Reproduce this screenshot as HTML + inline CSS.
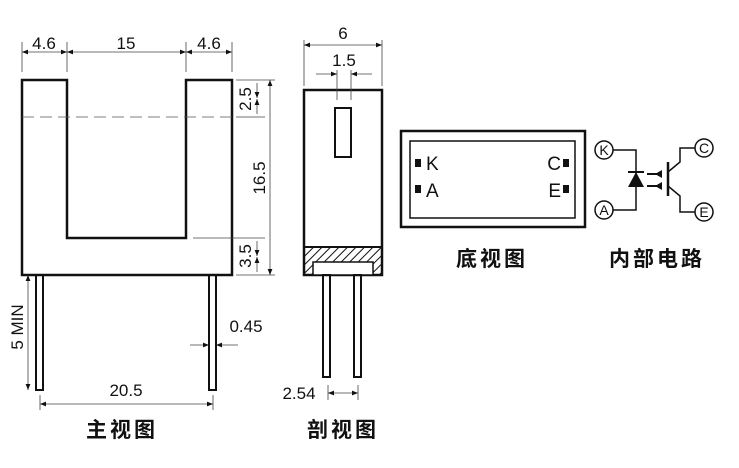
<!DOCTYPE html>
<html><head><meta charset="utf-8"><style>
html,body{margin:0;padding:0;background:#fff;}
svg text{font-family:"Liberation Sans",Arial,sans-serif;fill:#111;}
.cn{font-family:"Noto Sans CJK SC","WenQuanYi Zen Hei",sans-serif;font-weight:bold;}
</style></head><body>
<svg width="739" height="463" viewBox="0 0 739 463" xmlns="http://www.w3.org/2000/svg">
<defs>
<marker id="a" viewBox="0 0 10 10" refX="10" refY="5" markerWidth="10" markerHeight="6" markerUnits="userSpaceOnUse" orient="auto-start-reverse"><path d="M0,1 L10,5 L0,9z" fill="#111"/></marker>
<pattern id="h" width="6" height="6" patternUnits="userSpaceOnUse" patternTransform="rotate(45)"><line x1="0" y1="0" x2="0" y2="6" stroke="#111" stroke-width="2"/></pattern>
</defs>
<rect width="739" height="463" fill="#fff"/>
<g fill="none" stroke="#111">
<path d="M22,80 H67 V238 H186 V80 H232 V275 H22 Z" stroke-width="2.5"/>
<line x1="22" y1="117" x2="232" y2="117" stroke-width="0.8" stroke-dasharray="12,6" stroke="#555"/>
<g stroke-width="0.8" stroke="#444">
<line x1="22" y1="42" x2="22" y2="72"/><line x1="67" y1="42" x2="67" y2="72"/><line x1="186" y1="42" x2="186" y2="72"/><line x1="232" y1="42" x2="232" y2="72"/>
<line x1="22" y1="52" x2="67" y2="52" marker-start="url(#a)" marker-end="url(#a)"/>
<line x1="67" y1="52" x2="186" y2="52" marker-start="url(#a)" marker-end="url(#a)"/>
<line x1="186" y1="52" x2="232" y2="52" marker-start="url(#a)" marker-end="url(#a)"/>
<line x1="236" y1="80" x2="275" y2="80"/><line x1="236" y1="117" x2="265" y2="117"/>
<line x1="193" y1="238" x2="265" y2="238"/><line x1="236" y1="275" x2="275" y2="275"/>
<line x1="257" y1="83" x2="257" y2="98" marker-end="url(#a)"/><line x1="257" y1="114" x2="257" y2="99" marker-end="url(#a)"/>
<line x1="270" y1="80" x2="270" y2="275" marker-start="url(#a)" marker-end="url(#a)"/>
<line x1="257" y1="241" x2="257" y2="256" marker-end="url(#a)"/><line x1="257" y1="272" x2="257" y2="257" marker-end="url(#a)"/>
<line x1="28" y1="275" x2="28" y2="390" marker-start="url(#a)" marker-end="url(#a)"/>
<line x1="40" y1="395" x2="40" y2="410"/><line x1="213" y1="395" x2="213" y2="410"/>
<line x1="40" y1="404" x2="213" y2="404" marker-start="url(#a)" marker-end="url(#a)"/>
<line x1="190" y1="345" x2="209" y2="345" marker-end="url(#a)"/><line x1="238" y1="345" x2="216" y2="345" marker-end="url(#a)"/>
</g>
<rect x="36" y="275" width="7" height="115" stroke-width="2"/>
<rect x="209" y="275" width="7" height="115" stroke-width="2"/>
</g>
<text x="44" y="49" font-size="17" text-anchor="middle">4.6</text>
<text x="126" y="49" font-size="17" text-anchor="middle">15</text>
<text x="209" y="49" font-size="17" text-anchor="middle">4.6</text>
<text transform="translate(251,99) rotate(-90)" font-size="17" text-anchor="middle">2.5</text>
<text transform="translate(265,178) rotate(-90)" font-size="17" text-anchor="middle">16.5</text>
<text transform="translate(251,256) rotate(-90)" font-size="17" text-anchor="middle">3.5</text>
<text transform="translate(23,327) rotate(-90)" font-size="17" text-anchor="middle">5 MIN</text>
<text x="246" y="332" font-size="17" text-anchor="middle">0.45</text>
<text x="126" y="396" font-size="17" text-anchor="middle">20.5</text>
<text class="cn" x="122" y="437" font-size="21" text-anchor="middle" letter-spacing="3">主视图</text>
<g fill="none" stroke="#111">
<rect x="304" y="90" width="78" height="185" stroke-width="2.5"/>
<rect x="335" y="108" width="16" height="49" stroke-width="2"/>
<rect x="305" y="248" width="76" height="26" fill="url(#h)" stroke="none"/>
<line x1="304" y1="247" x2="382" y2="247" stroke-width="2"/>
<rect x="313" y="262" width="60" height="13" fill="#fff" stroke-width="1.5"/>
<rect x="323" y="275" width="7" height="102" stroke-width="2"/>
<rect x="354" y="275" width="7" height="102" stroke-width="2"/>
<g stroke-width="0.8" stroke="#444">
<line x1="304" y1="40" x2="304" y2="86"/><line x1="382" y1="40" x2="382" y2="86"/>
<line x1="304" y1="45" x2="382" y2="45" marker-start="url(#a)" marker-end="url(#a)"/>
<line x1="337" y1="70" x2="337" y2="100"/><line x1="351" y1="70" x2="351" y2="100"/>
<line x1="316" y1="74" x2="337" y2="74" marker-end="url(#a)"/><line x1="372" y1="74" x2="351" y2="74" marker-end="url(#a)"/>
<line x1="328" y1="385" x2="328" y2="400"/><line x1="358" y1="385" x2="358" y2="400"/>
<line x1="328" y1="393" x2="358" y2="393" marker-start="url(#a)" marker-end="url(#a)"/>
</g>
</g>
<text x="343" y="39" font-size="17" text-anchor="middle">6</text>
<text x="344" y="66" font-size="17" text-anchor="middle">1.5</text>
<text x="299" y="399" font-size="17" text-anchor="middle">2.54</text>
<text class="cn" x="343" y="437" font-size="21" text-anchor="middle" letter-spacing="3">剖视图</text>
<rect x="401" y="131" width="184" height="96" fill="none" stroke="#111" stroke-width="2.5"/>
<rect x="410" y="141" width="165" height="77" fill="none" stroke="#111" stroke-width="1.5"/>
<rect x="415" y="159" width="6" height="8" fill="#111"/><rect x="415" y="185" width="6" height="8" fill="#111"/>
<rect x="563" y="159" width="6" height="8" fill="#111"/><rect x="563" y="185" width="6" height="8" fill="#111"/>
<text x="426" y="170" font-size="19">K</text><text x="426" y="197" font-size="19">A</text>
<text x="561" y="170" font-size="19" text-anchor="end">C</text><text x="561" y="197" font-size="19" text-anchor="end">E</text>
<text class="cn" x="492" y="266" font-size="21" text-anchor="middle" letter-spacing="3">底视图</text>
<g fill="none" stroke="#111" stroke-width="1.5">
<circle cx="604" cy="150" r="9"/><circle cx="604" cy="210" r="9"/>
<circle cx="704" cy="148" r="9"/><circle cx="704" cy="212" r="9"/>
<path d="M613,150 H636 V210 H613"/>
<line x1="628" y1="172" x2="644" y2="172" stroke-width="2"/>
<line x1="647" y1="174" x2="661" y2="174" stroke-width="2"/><line x1="647" y1="186" x2="661" y2="186" stroke-width="2"/>
<line x1="668" y1="162" x2="668" y2="196" stroke-width="2.5"/>
<path d="M668,172 L680,162 V148 H695"/><path d="M668,186 L680,196 V212 H695"/>
</g>
<path d="M628,187 L644,187 L636,172z" fill="#111"/>
<path d="M662,170 L655,174 L662,178z M662,182 L655,186 L662,190z" fill="#111"/>
<text x="604" y="155" font-size="14" text-anchor="middle">K</text><text x="604" y="215" font-size="14" text-anchor="middle">A</text>
<text x="704" y="153" font-size="14" text-anchor="middle">C</text><text x="704" y="217" font-size="14" text-anchor="middle">E</text>
<text class="cn" x="657" y="266" font-size="21" text-anchor="middle" letter-spacing="3">内部电路</text>
</svg>
</body></html>
